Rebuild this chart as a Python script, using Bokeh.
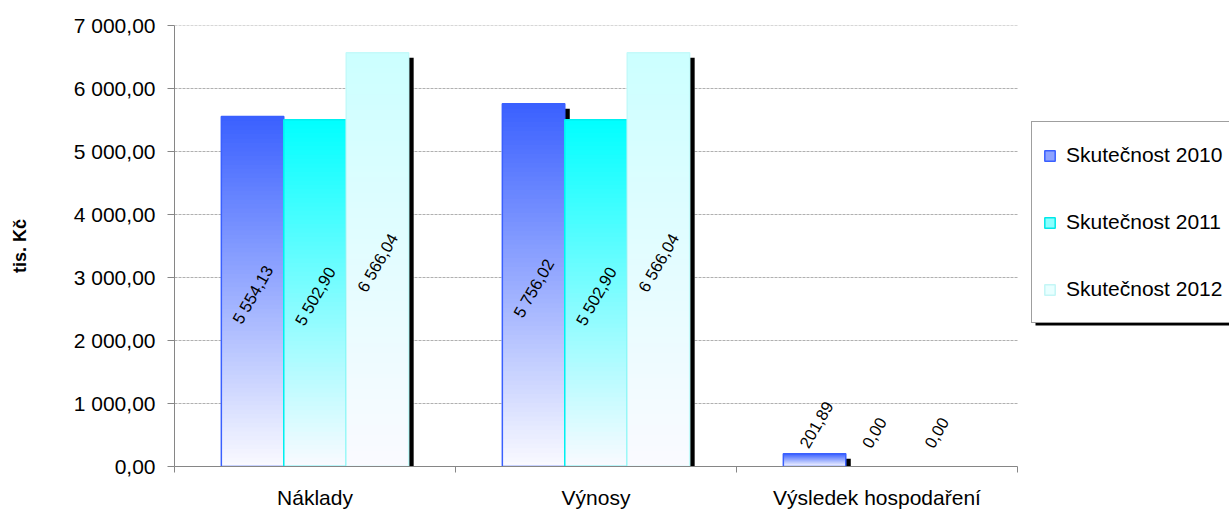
from bokeh.plotting import figure
from bokeh.models import Range1d, FixedTicker, Legend, LegendItem, BoxAnnotation
from bokeh.core.properties import value
from bokeh.embed import file_html
from bokeh.resources import INLINE

# ---- data -------------------------------------------------------------
categories = ["Náklady", "Výnosy", "Výsledek hospodaření"]
series_names = ["Skutečnost 2010", "Skutečnost 2011", "Skutečnost 2012"]
skutecnost_2010 = [5554.13, 5756.02, 201.89]
skutecnost_2011 = [5502.90, 5502.90, 0.00]
skutecnost_2012 = [6566.04, 6566.04, 0.00]
y_ticks = [0, 1000, 2000, 3000, 4000, 5000, 6000, 7000]
y_tick_labels = ["0,00", "1 000,00", "2 000,00", "3 000,00",
                 "4 000,00", "5 000,00", "6 000,00", "7 000,00"]
y_title = "tis. Kč"

series_values = [skutecnost_2010, skutecnost_2011, skutecnost_2012]

# ---- styling ----------------------------------------------------------
FONT = "Liberation Sans"
top_colors = [(58, 96, 255), (0, 255, 255), (204, 255, 255)]
bottom_color = (250, 250, 255)
legend_fill = ["#8ea3ff", "#8affff", "#e8ffff"]
legend_line = ["#3a60ff", "#00e8e8", "#c4f6f6"]
outline_colors = ["#3a60ff", "#00f0f0", "#c4fafa"]
AXIS_GREY = "#868686"
GRID_GREY = "#b0b0b0"

W, H = 1229, 511
BORDER_L, BORDER_T, BORDER_B = 174, 25, 36
cat_px = 843                      # width taken by the three categories
n_cat = len(categories)
x_per_px = n_cat / cat_px
x_end = (W - BORDER_L) * x_per_px  # frame runs on under the legend
frame_h = H - BORDER_T - BORDER_B
y_per_px = 7000.0 / frame_h

bar_w = 1 / 4.5           # three bars plus a 150 % gap per category
n_steps = 80              # steps used to build the vertical colour fade


def fmt_cz(v):
    return f"{v:,.2f}".replace(",", " ").replace(".", ",")


def hex_rgb(c):
    return "#%02x%02x%02x" % tuple(int(round(x)) for x in c)


def px_to_x(px):
    return (px - BORDER_L) * x_per_px


def px_to_y(py):
    return (H - BORDER_B - py) * y_per_px


p = figure(width=W, height=H, x_range=Range1d(0, x_end), y_range=Range1d(0, 7000),
           output_backend="svg", toolbar_location=None,
           min_border_left=BORDER_L, min_border_right=0,
           min_border_top=BORDER_T, min_border_bottom=BORDER_B)
p.outline_line_color = None
p.background_fill_color = "white"
p.border_fill_color = "white"

# ---- axes -------------------------------------------------------------
p.xaxis.bounds = (0, n_cat)
p.xaxis.ticker = FixedTicker(ticks=[i + 0.5 for i in range(n_cat)],
                             minor_ticks=list(range(n_cat + 1)))
p.xaxis.major_label_overrides = {i + 0.5: c for i, c in enumerate(categories)}
p.xaxis.major_tick_out = 0
p.xaxis.major_tick_in = 0
p.xaxis.minor_tick_out = 6
p.xaxis.minor_tick_in = 0
p.xaxis.minor_tick_line_color = AXIS_GREY
p.xaxis.axis_line_color = AXIS_GREY
p.xaxis.major_label_standoff = 13
p.xaxis.major_label_text_font = FONT
p.xaxis.major_label_text_font_size = "21px"
p.xaxis.major_label_text_color = "black"

p.yaxis.ticker = FixedTicker(ticks=y_ticks, minor_ticks=[])
p.yaxis.major_label_overrides = dict(zip(y_ticks, y_tick_labels))
p.yaxis.major_tick_out = 7
p.yaxis.major_tick_in = 0
p.yaxis.major_tick_line_color = AXIS_GREY
p.yaxis.axis_line_color = AXIS_GREY
p.yaxis.major_label_standoff = 12
p.yaxis.major_label_text_font = FONT
p.yaxis.major_label_text_font_size = "21px"
p.yaxis.major_label_text_color = "black"
p.yaxis.axis_label = y_title
p.yaxis.axis_label_text_font = FONT
p.yaxis.axis_label_text_font_size = "18px"
p.yaxis.axis_label_text_font_style = "bold"
p.yaxis.axis_label_text_color = "black"
p.yaxis.axis_label_standoff = 41

# horizontal grid lines only across the category area
p.xgrid.visible = False
p.ygrid.visible = False
grid_y = [t for t in y_ticks if t > 0]
p.segment(x0=[0] * len(grid_y), x1=[n_cat] * len(grid_y), y0=grid_y, y1=grid_y,
          line_color=GRID_GREY, line_dash="3 1", line_width=1)

# ---- bars -------------------------------------------------------------
centers = []
for j, vals in enumerate(series_values):
    centers.append([i + 0.5 + (j - 1) * bar_w for i in range(len(vals))])

# drop shadows, offset right and down
sh = dict(left=[], right=[], top=[])
dx = 5 * x_per_px
dy = 5 * y_per_px
for j, vals in enumerate(series_values):
    for xc, v in zip(centers[j], vals):
        if v - dy > 0:
            sh["left"].append(xc - bar_w / 2 + dx)
            sh["right"].append(xc + bar_w / 2 + dx)
            sh["top"].append(v - dy)
p.quad(source=sh, left="left", right="right", top="top", bottom=0,
       fill_color="black", line_color=None)

# faded bar bodies: overlapping rectangles, tallest first, so the colour runs
# from the series colour at the top down to near white at the base
for j, vals in enumerate(series_values):
    st = dict(left=[], right=[], top=[], color=[])
    for k in range(n_steps):
        t = k / n_steps
        tm = (k + 0.5) / n_steps
        c = [top_colors[j][m] * (1 - tm) + bottom_color[m] * tm for m in range(3)]
        for xc, v in zip(centers[j], vals):
            if v <= 0:
                continue
            st["left"].append(xc - bar_w / 2)
            st["right"].append(xc + bar_w / 2)
            st["top"].append(v * (1 - t))
            st["color"].append(hex_rgb(c))
    p.quad(source=st, left="left", right="right", top="top", bottom=0,
           fill_color="color", line_color=None)
    ol = dict(x=[], top=[])
    for xc, v in zip(centers[j], vals):
        if v > 0:
            ol["x"].append(xc)
            ol["top"].append(v)
    p.vbar(source=ol, x="x", top="top", bottom=0, width=bar_w,
           fill_color=None, line_color=outline_colors[j], line_width=1.5)

# ---- value labels -----------------------------------------------------
inside = dict(x=[], y=[], text=[])
low = dict(x=[], text=[])
for j, vals in enumerate(series_values):
    for xc, v in zip(centers[j], vals):
        if v >= 1000:
            inside["x"].append(xc)
            inside["y"].append(v / 2)
            inside["text"].append(fmt_cz(v))
        else:
            low["x"].append(xc)
            low["text"].append(fmt_cz(v))
p.text(source=inside, x="x", y="y", text="text", angle=60, angle_units="deg",
       text_align="center", text_baseline="middle", text_font=value(FONT),
       text_font_size="16.5px", text_color="black", y_offset=3)
p.text(source=low, x="x", y=0, text="text", angle=60, angle_units="deg",
       text_align="left", text_baseline="middle", text_font=value(FONT),
       text_font_size="16.5px", text_color="black", x_offset=-11, y_offset=-20)

# ---- legend -----------------------------------------------------------
# swatch renderers: one NaN row each, so they only appear inside the legend
nan = float("nan")
legend_renderers = []
for j in range(len(series_names)):
    r = p.vbar(x=[nan], top=[nan], width=0.1, fill_color=legend_fill[j],
               line_color=legend_line[j], line_width=1.5)
    legend_renderers.append(r)

# black drop shadow under the legend box
p.add_layout(BoxAnnotation(left=px_to_x(1035), right=x_end,
                           top=px_to_y(324), bottom=px_to_y(331),
                           fill_color="black", fill_alpha=1.0, line_color=None,
                           level="underlay"))

main_legend = Legend(
    items=[LegendItem(label=n, renderers=[r]) for n, r in zip(series_names, legend_renderers)],
    location=(1031 - BORDER_L, (H - BORDER_B) - 332),
    orientation="vertical", padding=11, spacing=23, label_height=44,
    glyph_height=13, glyph_width=13, label_standoff=10, margin=0,
    label_text_font=FONT, label_text_font_size="21px", label_text_color="black",
    border_line_color="#404040", border_line_width=1,
    background_fill_color="white", background_fill_alpha=1.0)
p.add_layout(main_legend, "center")

open("out.html", "w").write(file_html(p, INLINE))
